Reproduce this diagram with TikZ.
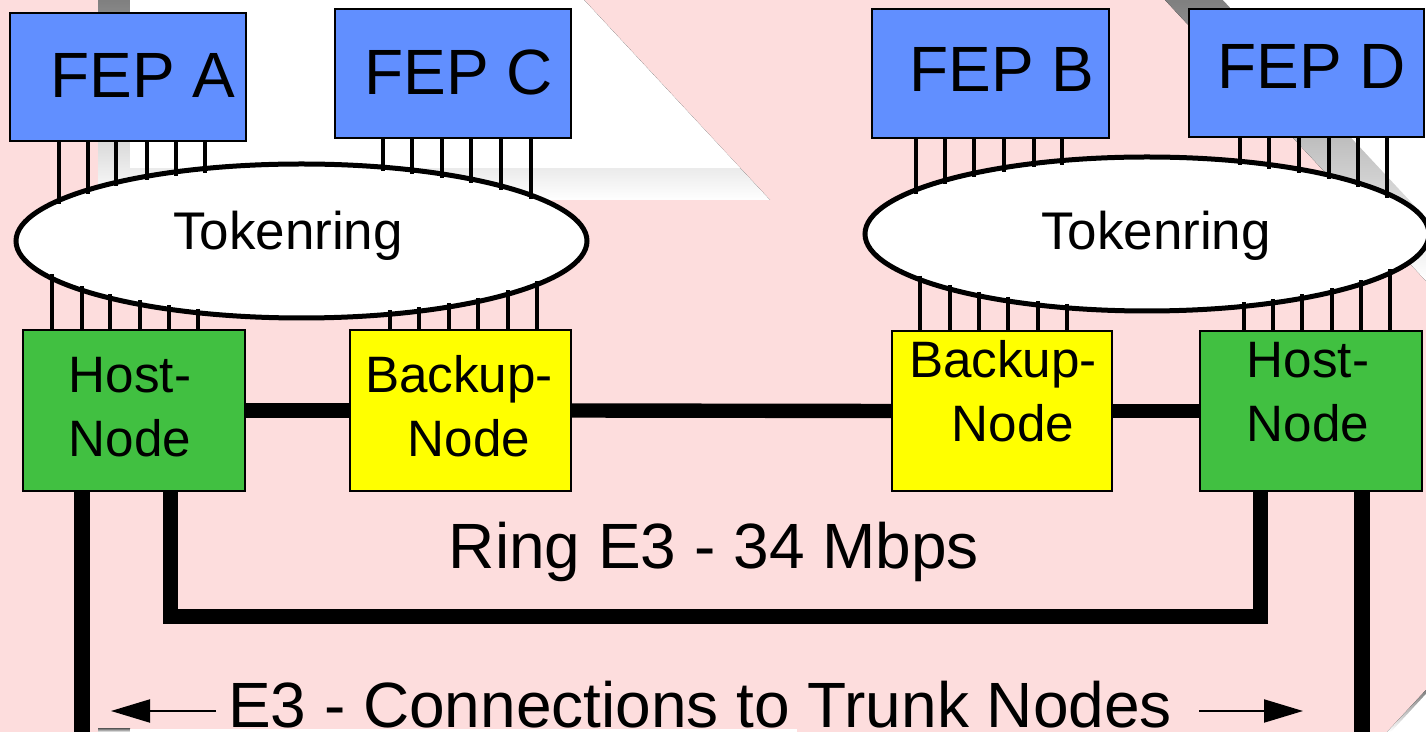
\documentclass[tikz,border=0pt]{standalone}
\usepackage{fontspec}
\setmainfont{Liberation Sans}
\usetikzlibrary{arrows.meta,shapes.geometric}
\definecolor{bgpink}{RGB}{253,221,221}
\definecolor{shade}{RGB}{208,208,208}
\definecolor{fepblue}{RGB}{97,143,255}
\definecolor{hostgreen}{RGB}{65,192,65}
\definecolor{backupyellow}{RGB}{255,255,0}
\begin{document}
\begin{tikzpicture}[x=0.5pt,y=-0.5pt,
  fepbox/.style={draw=black,line width=1.3pt,fill=fepblue,inner sep=0pt},
  nodebox/.style={draw=black,line width=1pt,inner sep=0pt,minimum height=80pt},
  ringnet/.style={ellipse,draw=black,line width=2.5pt,fill=white,inner sep=0pt,minimum height=77pt},
  tick/.style={line width=2.1pt,black},
  linkline/.style={line width=7.2pt,black},
  ringline/.style={line width=7.5pt,black,line join=miter},
  trunkline/.style={line width=8pt,black},
  hint/.style={line width=1pt,black,-{Triangle[length=19.5pt,width=11.5pt]}},
  bigtxt/.style={font=\fontsize{32}{38}\selectfont,anchor=base,inner sep=0pt},
  tokentxt/.style={font=\fontsize{26.5}{32}\selectfont,anchor=base,inner sep=0pt},
  boxtxt/.style={font=\fontsize{25.6}{31}\selectfont,anchor=base,inner sep=0pt}]

% page and background pattern
\useasboundingbox (0,0) rectangle (1426,732);
\fill[bgpink] (0,0) rectangle (1426,732);
\fill[shade] (98,0) -- (584,0) -- (770,200) -- (98,200) -- cycle;
\fill[white] (130,0) -- (584,0) -- (740,168) -- (130,168) -- cycle;
\fill[shade] (1165,0) -- (1426,0) -- (1426,281) -- cycle;
\fill[white] (1223,0) -- (1426,0) -- (1426,218) -- cycle;
\fill[shade] (1387,732) -- (1426,690) -- (1426,732) -- cycle;
\fill[white] (1391,732) -- (1426,694) -- (1426,732) -- cycle;
\fill[shade] (98,729) rectangle (130,732);
\fill[white] (130,729) rectangle (797,732);

% token rings
\node[ringnet,minimum width=285.5pt] (ringL) at (301.5,241) {};
\node[ringnet,minimum width=282pt] (ringR) at (1147,234) {};

% front end processors
\node[fepbox,minimum width=118pt,minimum height=64pt] (fepA) at (128,77) {};
\node[fepbox,minimum width=118pt,minimum height=64.5pt] (fepC) at (453,73.5) {};
\node[fepbox,minimum width=118.5pt,minimum height=64.5pt] (fepB) at (990.5,73.5) {};
\node[fepbox,minimum width=117.5pt,minimum height=64pt] (fepD) at (1306.5,73) {};

% host and backup nodes
\node[nodebox,fill=hostgreen,minimum width=111pt,minimum height=80.5pt] (hostL) at (134,410.5) {};
\node[nodebox,fill=backupyellow,minimum width=110.5pt,minimum height=80.5pt] (backupL) at (460.5,410.5) {};
\node[nodebox,fill=backupyellow,minimum width=110pt] (backupR) at (1002,411) {};
\node[nodebox,fill=hostgreen,minimum width=111pt] (hostR) at (1311,411) {};

% attachment lines into the left token ring
\foreach \x in {59,88,116,147,176,205}{
  \pgfmathsetmacro\ye{241-77*sqrt(1-((\x-301.5)/285.5)^2)+4}
  \draw[tick] (fepA.south -| \x,0) -- (\x,\ye);
}
\foreach \x in {383,412,442,471,501,531}{
  \pgfmathsetmacro\ye{241-77*sqrt(1-((\x-301.5)/285.5)^2)+4}
  \draw[tick] (fepC.south -| \x,0) -- (\x,\ye);
}
\foreach \x in {52,82,110,140,169,198}{
  \pgfmathsetmacro\ye{241+77*sqrt(1-((\x-301.5)/285.5)^2)-4}
  \draw[tick] (\x,\ye) -- (hostL.north -| \x,0);
}
\foreach \x in {390,419,449,478,508,537}{
  \pgfmathsetmacro\ye{241+77*sqrt(1-((\x-301.5)/285.5)^2)-4}
  \draw[tick] (\x,\ye) -- (backupL.north -| \x,0);
}

% attachment lines into the right token ring
\foreach \x in {916,945,974,1004,1034,1062}{
  \pgfmathsetmacro\ye{234-77*sqrt(1-((\x-1147)/282)^2)+4}
  \draw[tick] (fepB.south -| \x,0) -- (\x,\ye);
}
\foreach \x in {1240,1269,1299,1329,1358,1387}{
  \pgfmathsetmacro\ye{234-77*sqrt(1-((\x-1147)/282)^2)+4}
  \draw[tick] (fepD.south -| \x,0) -- (\x,\ye);
}
\foreach \x in {920,950,979,1008,1038,1067}{
  \pgfmathsetmacro\ye{234+77*sqrt(1-((\x-1147)/282)^2)-4}
  \draw[tick] (\x,\ye) -- (backupR.north -| \x,0);
}
\foreach \x in {1244,1273,1302,1332,1361,1390}{
  \pgfmathsetmacro\ye{234+77*sqrt(1-((\x-1147)/282)^2)-4}
  \draw[tick] (\x,\ye) -- (hostR.north -| \x,0);
}

% E3 ring
\draw[linkline] (hostL.east) -- (backupL.west);
\draw[linkline] (backupL.east) -- (backupR.west);
\draw[linkline] (backupR.east) -- (hostR.west);
\coordinate (loopL) at (170,617);
\coordinate (loopR) at (1260,617);
\draw[ringline] (hostL.south -| loopL) -- (loopL) -- (loopR) -- (hostR.south -| loopR);

% trunk connections
\coordinate (trunkL) at (82,745);
\coordinate (trunkR) at (1362,745);
\draw[trunkline] (hostL.south -| trunkL) -- (trunkL);
\draw[trunkline] (hostR.south -| trunkR) -- (trunkR);
\coordinate (arrLs) at (216,711);
\coordinate (arrLt) at (111,711);
\coordinate (arrRs) at (1199,711);
\coordinate (arrRt) at (1303,711);
\draw[hint] (arrLs) -- (arrLt);
\draw[hint] (arrRs) -- (arrRt);

% labels
\node[bigtxt] (tA) at (143,98) {FEP A};
\node[bigtxt] (tC) at (459,95) {FEP C};
\node[bigtxt] (tB) at (1002,92) {FEP B};
\node[bigtxt] (tD) at (1312,89) {FEP D};
\node[tokentxt] (tRingL) at (288,250) {Tokenring};
\node[tokentxt] (tRingR) at (1156,250) {Tokenring};
\node[boxtxt] (tHostL1) at (130,393) {Host-};
\node[boxtxt] (tHostL2) at (130,457) {Node};
\node[boxtxt] (tBackL1) at (459,393) {Backup-};
\node[boxtxt] (tBackL2) at (469,457) {Node};
\node[boxtxt] (tBackR1) at (1003,378) {Backup-};
\node[boxtxt] (tBackR2) at (1013,442) {Node};
\node[boxtxt] (tHostR1) at (1308,378) {Host-};
\node[boxtxt] (tHostR2) at (1308,442) {Node};
\node[bigtxt] (tRing) at (714,569) {Ring E3 - 34 Mbps};
\node[bigtxt] (tTrunk) at (700,727) {E3 - Connections to Trunk Nodes};
\end{tikzpicture}
\end{document}
